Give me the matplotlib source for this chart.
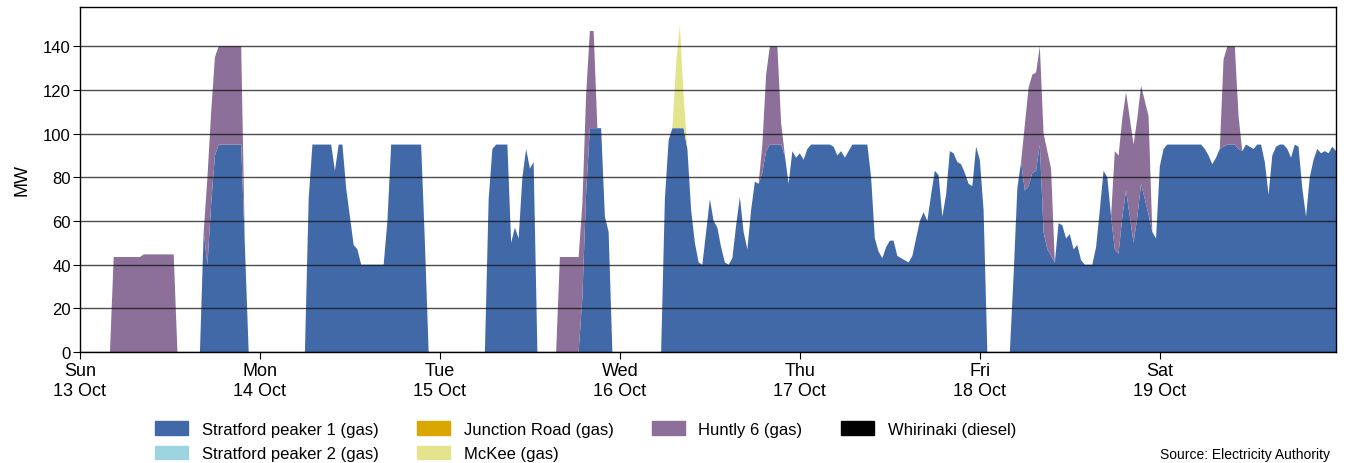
import matplotlib
matplotlib.use("Agg")
import matplotlib.pyplot as plt
import pandas as pd
from matplotlib.patches import Patch

plt.rcParams["font.family"] = ["Liberation Sans", "DejaVu Sans"]

# half-hourly generation (MW), Sun 13 Oct 00:00 -> Sat 19 Oct 23:30
# one row = 6 hours (12 trading periods)
STRATFORD_1 = [
    # Sun 13 Oct
    0, 0, 0, 0, 0, 0, 0, 0, 0, 0, 0, 0,
    0, 0, 0, 0, 0, 0, 0, 0, 0, 0, 0, 0,
    0, 0, 0, 0, 0, 0, 0, 0, 0, 55, 40, 68,
    90, 95, 95, 95, 95, 95, 95, 95, 48, 0, 0, 0,
    # Mon 14 Oct
    0, 0, 0, 0, 0, 0, 0, 0, 0, 0, 0, 0,
    0, 70, 95, 95, 95, 95, 95, 95, 83, 95, 95, 75,
    62, 49, 47, 40, 40, 40, 40, 40, 40, 40, 60, 95,
    95, 95, 95, 95, 95, 95, 95, 95, 50, 0, 0, 0,
    # Tue 15 Oct
    0, 0, 0, 0, 0, 0, 0, 0, 0, 0, 0, 0,
    0, 70, 93, 95, 95, 95, 95, 50, 57, 52, 80, 93,
    84, 87, 0, 0, 0, 0, 0, 0, 0, 0, 0, 0,
    0, 0, 25, 73, 102.5, 102.5, 102.5, 102.5, 62, 55, 0, 0,
    # Wed 16 Oct
    0, 0, 0, 0, 0, 0, 0, 0, 0, 0, 0, 0,
    70, 97, 102.5, 102.5, 102.5, 102.5, 93, 65, 50, 41, 40, 55,
    70, 60, 57, 48, 41, 40, 43, 58, 71, 55, 47, 65,
    78, 77, 82, 92, 95, 95, 95, 95, 90, 77, 92, 89,
    # Thu 17 Oct
    91, 88, 93, 95, 95, 95, 95, 95, 95, 94, 90, 92,
    89, 92, 95, 95, 95, 95, 95, 80, 52, 46, 43, 48,
    51, 51, 44, 43, 42, 41, 44, 52, 60, 64, 60, 72,
    83, 81, 62, 72, 92, 91, 87, 86, 82, 77, 76, 94,
    # Fri 18 Oct
    88, 65, 0, 0, 0, 0, 0, 0, 0, 35, 75, 87,
    74, 76, 82, 83, 95, 55, 47, 44, 41, 59, 58, 52,
    54, 47, 49, 42, 40, 40, 40, 48, 65, 83, 80, 62,
    47, 45, 62, 74, 62, 50, 62, 77, 70, 63, 55, 52,
    # Sat 19 Oct
    85, 93, 95, 95, 95, 95, 95, 95, 95, 95, 95, 95,
    93, 90, 86, 89, 93, 94, 95, 95, 95, 93, 92, 95,
    94, 93, 95, 95, 87, 72, 90, 94, 95, 95, 93, 89,
    95, 94, 75, 62, 80, 88, 93, 91, 92, 91, 94, 92,
]

HUNTLY_6 = [
    # Sun 13 Oct
    0, 0, 0, 0, 0, 0, 0, 0, 0, 43.5, 43.5, 43.5,
    43.5, 43.5, 43.5, 43.5, 43.5, 44.7, 44.7, 44.7, 44.7, 44.7, 44.7, 44.7,
    44.7, 44.7, 0, 0, 0, 0, 0, 0, 0, 0, 40, 42,
    45, 45, 45, 45, 45, 45, 45, 45, 0, 0, 0, 0,
    # Mon 14 Oct
    0, 0, 0, 0, 0, 0, 0, 0, 0, 0, 0, 0,
    0, 0, 0, 0, 0, 0, 0, 0, 0, 0, 0, 0,
    0, 0, 0, 0, 0, 0, 0, 0, 0, 0, 0, 0,
    0, 0, 0, 0, 0, 0, 0, 0, 0, 0, 0, 0,
    # Tue 15 Oct
    0, 0, 0, 0, 0, 0, 0, 0, 0, 0, 0, 0,
    0, 0, 0, 0, 0, 0, 0, 0, 0, 0, 0, 0,
    0, 0, 0, 0, 0, 0, 0, 0, 43.5, 43.5, 43.5, 43.5,
    43.5, 43.5, 43, 45, 44.5, 44.5, 0, 0, 0, 0, 0, 0,
    # Wed 16 Oct
    0, 0, 0, 0, 0, 0, 0, 0, 0, 0, 0, 0,
    0, 0, 0, 0, 0, 0, 0, 0, 0, 0, 0, 0,
    0, 0, 0, 0, 0, 0, 0, 0, 0, 0, 0, 0,
    0, 0, 13, 35, 45, 45, 45, 10, 0, 0, 0, 0,
    # Thu 17 Oct
    0, 0, 0, 0, 0, 0, 0, 0, 0, 0, 0, 0,
    0, 0, 0, 0, 0, 0, 0, 0, 0, 0, 0, 0,
    0, 0, 0, 0, 0, 0, 0, 0, 0, 0, 0, 0,
    0, 0, 0, 0, 0, 0, 0, 0, 0, 0, 0, 0,
    # Fri 18 Oct
    0, 0, 0, 0, 0, 0, 0, 0, 0, 0, 0, 0,
    30, 45, 45, 45, 45, 45, 45, 40, 0, 0, 0, 0,
    0, 0, 0, 0, 0, 0, 0, 0, 0, 0, 0, 0,
    45, 45, 45, 45, 45, 45, 45, 45, 45, 45, 0, 0,
    # Sat 19 Oct
    0, 0, 0, 0, 0, 0, 0, 0, 0, 0, 0, 0,
    0, 0, 0, 0, 0, 40, 45, 45, 45, 15, 0, 0,
    0, 0, 0, 0, 0, 0, 0, 0, 0, 0, 0, 0,
    0, 0, 0, 0, 0, 0, 0, 0, 0, 0, 0, 0,
]

# McKee only ran on Wed morning; all other periods zero
MCKEE_WED = [
    0, 0, 0, 0, 0, 0, 0, 0, 0, 0, 0, 0,
    0, 0, 0, 30, 47, 15, 0, 0, 0, 0, 0, 0,
    0, 0, 0, 0, 0, 0, 0, 0, 0, 0, 0, 0,
    0, 0, 0, 0, 0, 0, 0, 0, 0, 0, 0, 0,
]
MCKEE = [0] * 48 * 3 + MCKEE_WED + [0] * 48 * 3

# no output from these over the week
STRATFORD_2 = [0] * len(STRATFORD_1)
JUNCTION_ROAD = [0] * len(STRATFORD_1)
WHIRINAKI = [0] * len(STRATFORD_1)

NAMES = ["Stratford peaker 1 (gas)", "Stratford peaker 2 (gas)", "Junction Road (gas)",
         "McKee (gas)", "Huntly 6 (gas)", "Whirinaki (diesel)"]
COLORS = ["#4169A8", "#9DD4DF", "#DAA600", "#E5E48E", "#8C7099", "#000000"]
DAY_LABELS = ["Sun\n13 Oct", "Mon\n14 Oct", "Tue\n15 Oct", "Wed\n16 Oct",
              "Thu\n17 Oct", "Fri\n18 Oct", "Sat\n19 Oct"]

times = pd.date_range("2024-10-13", periods=len(STRATFORD_1), freq="30min")
series = [STRATFORD_1, STRATFORD_2, JUNCTION_ROAD, MCKEE, HUNTLY_6, WHIRINAKI]

fig = plt.figure(figsize=(13.46, 4.64), dpi=100)
ax = fig.add_axes([0.0594, 0.2392, 0.9332, 0.7436])
ax.stackplot(times, *series, colors=COLORS, linewidth=0, zorder=2)

ax.set_ylim(0, 158)
ax.set_yticks(range(0, 141, 20))
ax.set_xlim(times[0], times[-1])
days = pd.date_range("2024-10-13", periods=7, freq="D")
ax.set_xticks(days)
ax.set_xticklabels(DAY_LABELS, linespacing=1.25)
ax.tick_params(axis="x", labelsize=13, length=5, pad=2)
ax.tick_params(axis="y", labelsize=12, length=5, pad=1.5)
ax.yaxis.grid(True, color="#111111", alpha=0.75, lw=1.0, zorder=3)
ax.set_axisbelow(False)
ax.set_ylabel("MW", fontsize=13)
ax.yaxis.set_label_coords(-0.039, 0.5)
for sp in ax.spines.values():
    sp.set_linewidth(1.0)

handles = [Patch(facecolor=c, edgecolor=c, label=n) for n, c in zip(NAMES, COLORS)]
fig.legend(handles=handles, ncol=4, loc="upper left", bbox_to_anchor=(0.1152, 0.090),
           frameon=False, fontsize=12, handlelength=2.0, handleheight=0.85,
           handletextpad=0.8, columnspacing=2.3, labelspacing=0.55,
           borderpad=0, borderaxespad=0)
fig.text(0.988, 0.004, "Source: Electricity Authority", ha="right", va="bottom", fontsize=10)

fig.savefig("out.png", dpi=100)
